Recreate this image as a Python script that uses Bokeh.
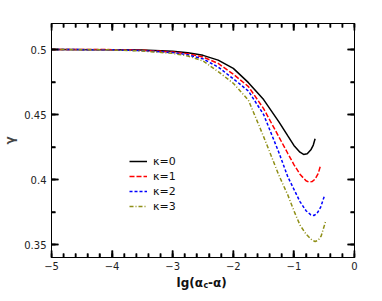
import numpy as np
from bokeh.plotting import figure
from bokeh.layouts import column
from bokeh.models import (FixedTicker, LinearAxis, Legend, LegendItem,
                          CustomJSTickFormatter, Range1d)
from bokeh.core.properties import value
from bokeh.embed import file_html
from bokeh.resources import INLINE

# ---------------- data ----------------
k0_x = [-5.0, -4.0, -3.5, -3.0, -2.75, -2.5, -2.25, -2.0, -1.75, -1.5, -1.25, -1.1, -1.0, -0.9, -0.84, -0.78, -0.72, -0.68, -0.65]
k0_y = [0.5, 0.4999, 0.4996, 0.4986, 0.4975, 0.4955, 0.4918, 0.4855, 0.4745, 0.4615, 0.4445, 0.4335, 0.4262, 0.4210, 0.4193, 0.4198, 0.4228, 0.4265, 0.4313]

k1_x = [-5.0, -4.0, -3.5, -3.0, -2.75, -2.5, -2.25, -2.0, -1.75, -1.5, -1.25, -1.1, -1.0, -0.9, -0.8, -0.75, -0.7, -0.65, -0.6, -0.565]
k1_y = [0.5, 0.4999, 0.4994, 0.4981, 0.4967, 0.4942, 0.4893, 0.4810, 0.4715, 0.4545, 0.4330, 0.4200, 0.4115, 0.4040, 0.3990, 0.3980, 0.3984, 0.4003, 0.4045, 0.4100]

k2_x = [-5.0, -4.0, -3.5, -3.0, -2.75, -2.5, -2.25, -2.0, -1.75, -1.5, -1.25, -1.1, -1.0, -0.9, -0.8, -0.72, -0.67, -0.62, -0.56, -0.494]
k2_y = [0.5, 0.4998, 0.4991, 0.4976, 0.4959, 0.4928, 0.4865, 0.4775, 0.4680, 0.4500, 0.4210, 0.4020, 0.3925, 0.3830, 0.3760, 0.3728, 0.3723, 0.3737, 0.3785, 0.3877]

k3_x = [-5.0, -4.0, -3.5, -3.0, -2.75, -2.5, -2.25, -2.0, -1.75, -1.5, -1.25, -1.1, -1.0, -0.9, -0.8, -0.7, -0.65, -0.6, -0.55, -0.472]
k3_y = [0.5, 0.4997, 0.4988, 0.4970, 0.4950, 0.4912, 0.4830, 0.4740, 0.4610, 0.4330, 0.4035, 0.3880, 0.3760, 0.3650, 0.3580, 0.3533, 0.3523, 0.3532, 0.3565, 0.3685]

series_labels = ["κ=0", "κ=1", "κ=2", "κ=3"]
x_ticks = [-5, -4, -3, -2, -1, 0]
x_minor = [round(-5 + 0.2 * i, 10) for i in range(26)]
y_ticks = [0.35, 0.4, 0.45, 0.5]
y_minor = [0.35, 0.375, 0.4, 0.425, 0.45, 0.475, 0.5]
x_title_parts = ["lg(α", "c", "-α)"]

X_MIN, X_MAX = -5, 0
Y_MIN, Y_MAX = 0.34, 0.52
FRAME_W, FRAME_H = 308, 234          # frame size in pixels

# ---------------- main figure ----------------
FONT = "DejaVu Sans"
p = figure(width=374, height=274, output_backend="svg", toolbar_location=None,
           x_range=Range1d(X_MIN, X_MAX), y_range=Range1d(Y_MIN, Y_MAX),
           min_border_left=46, min_border_right=20, min_border_top=23,
           min_border_bottom=17)
p.xgrid.visible = False
p.ygrid.visible = False
p.outline_line_color = "black"
p.outline_line_width = 1
p.background_fill_color = "white"
p.border_fill_color = "white"

fmt = CustomJSTickFormatter(code="""
    var s = Math.abs(tick).toString();
    return (tick < 0 ? '\u2212' : '') + s;
""")
blank_fmt = CustomJSTickFormatter(code="return '';")

def style_axis(ax, ticks, minor, show_labels):
    ax.ticker = FixedTicker(ticks=ticks, minor_ticks=minor)
    ax.formatter = fmt if show_labels else blank_fmt
    ax.axis_line_color = "black"
    ax.major_tick_line_color = "black"
    ax.minor_tick_line_color = "black"
    ax.major_tick_line_width = 1.5
    ax.minor_tick_line_width = 1.5
    ax.major_tick_in = 7
    ax.major_tick_out = 0
    ax.minor_tick_in = 4
    ax.minor_tick_out = 0
    ax.major_label_text_font = FONT
    ax.major_label_text_font_size = "10px"
    ax.major_label_text_color = "#222222"
    ax.major_label_standoff = 5

style_axis(p.xaxis[0], x_ticks, x_minor, True)
p.xaxis[0].major_label_standoff = 4
style_axis(p.yaxis[0], y_ticks, y_minor, True)
p.yaxis[0].axis_label = "γ"
p.yaxis[0].axis_label_text_font = FONT
p.yaxis[0].axis_label_text_font_style = "bold"
p.yaxis[0].axis_label_text_font_size = "12px"
p.yaxis[0].axis_label_standoff = 4

top_ax = LinearAxis()
style_axis(top_ax, x_ticks, x_minor, False)
p.add_layout(top_ax, "above")
right_ax = LinearAxis()
style_axis(right_ax, y_ticks, y_minor, False)
p.add_layout(right_ax, "right")

# inward tick marks on all four sides (built from the tick lists)
dy_px = (Y_MAX - Y_MIN) / FRAME_H
dx_px = (X_MAX - X_MIN) / FRAME_W

def ticks_x(vals, length):
    n = len(vals)
    p.segment(x0=vals, y0=[Y_MIN] * n, x1=vals, y1=[Y_MIN + length * dy_px] * n,
              line_color="black", line_width=1.5, line_alpha=1.0)
    p.segment(x0=vals, y0=[Y_MAX] * n, x1=vals, y1=[Y_MAX - length * dy_px] * n,
              line_color="black", line_width=1.5, line_alpha=1.0)

def ticks_y(vals, length):
    n = len(vals)
    p.segment(x0=[X_MIN] * n, y0=vals, x1=[X_MIN + length * dx_px] * n, y1=vals,
              line_color="black", line_width=1.5, line_alpha=1.0)
    p.segment(x0=[X_MAX] * n, y0=vals, x1=[X_MAX - length * dx_px] * n, y1=vals,
              line_color="black", line_width=1.5, line_alpha=1.0)

ticks_x(x_minor, 4)
ticks_x(x_ticks, 7)
ticks_y(y_minor, 4)
ticks_y(y_ticks, 7)

# ---------------- curves ----------------
r0 = p.line(k0_x, k0_y, line_color="black", line_width=1.5)
r1 = p.line(k1_x, k1_y, line_color="#ff0000", line_width=1.5, line_dash="5 2")
r2 = p.line(k2_x, k2_y, line_color="#0000ff", line_width=1.5, line_dash="3 2")
r3 = p.line(k3_x, k3_y, line_color="#8f8f17", line_width=1.5, line_dash="4 2 1 2")

legend = Legend(items=[LegendItem(label=series_labels[i], renderers=[r])
                       for i, r in enumerate([r0, r1, r2, r3])],
                location=(78, 44), orientation="vertical")
legend.border_line_color = None
legend.background_fill_alpha = 0
legend.padding = 0
legend.margin = 0
legend.spacing = 1
legend.glyph_width = 18
legend.glyph_height = 14
legend.label_height = 14
legend.label_standoff = 6
legend.label_text_font = FONT
legend.label_text_font_size = "11px"
legend.label_text_color = "#111111"
p.add_layout(legend, "center")

# ---------------- x axis title strip (with subscript) ----------------
t = figure(width=374, height=24, output_backend="svg", toolbar_location=None,
           x_range=p.x_range, y_range=Range1d(0, 24),
           x_axis_type=None, y_axis_type=None,
           min_border_left=46, min_border_right=20, min_border_top=0,
           min_border_bottom=0)
t.outline_line_color = None
t.background_fill_color = "white"
t.border_fill_color = "white"
t.text(x=[-2.5], y=[16], text=[x_title_parts[0]], text_align="right",
       text_baseline="middle", text_font=value(FONT), text_font_style="bold",
       text_font_size="12px", text_color="#111111")
t.text(x=[-2.5], y=[13], text=[x_title_parts[1]], x_offset=0.5, text_align="left",
       text_baseline="middle", text_font=value(FONT), text_font_style="bold",
       text_font_size="8px", text_color="#111111")
t.text(x=[-2.5], y=[16], text=[x_title_parts[2]], x_offset=5, text_align="left",
       text_baseline="middle", text_font=value(FONT), text_font_style="bold",
       text_font_size="12px", text_color="#111111")

layout = column(p, t, spacing=0)
open("out.html", "w").write(file_html(layout, INLINE))
